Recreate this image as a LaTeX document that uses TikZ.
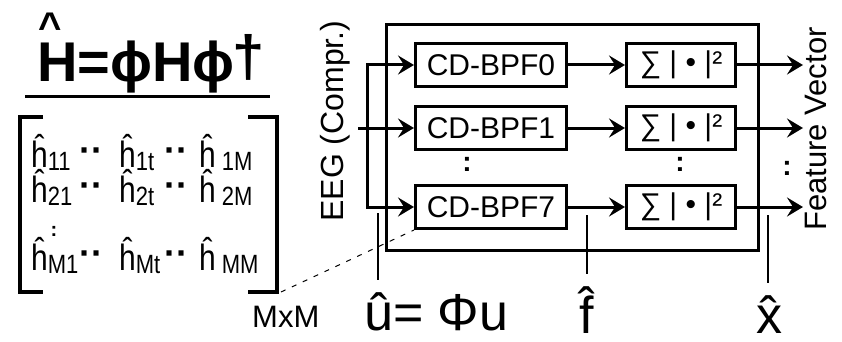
\documentclass[tikz,border=0pt]{standalone}
\usepackage{fontspec}
\usepackage{graphicx}
\setmainfont{Liberation Sans}
\usetikzlibrary{arrows.meta,positioning}
\newcommand{\fs}[1]{\fontsize{#1}{#1}\selectfont}
\newcommand{\hsub}[1]{\raisebox{-3pt}{\scalebox{1}[1.2]{\fs{22}#1}}}
\newcommand{\hent}{\scalebox{1}[1.22]{ĥ}}
\begin{document}
\begin{tikzpicture}[x=1pt,y=-1pt,>={Stealth[length=16pt,width=19pt,inset=6pt]},
  blk/.style={draw,line width=3pt,minimum height=43pt,inner sep=0pt,font=\fs{30}},
  bpf/.style={blk,minimum width=151pt},
  pow/.style={blk,minimum width=109pt},
  wire/.style={line width=3pt},
  tick/.style={line width=1.5pt,shorten >=12pt},
  vd/.style={font=\fs{28}\bfseries,inner sep=0pt},
  ent/.style={font=\fs{30},anchor=base west,inner sep=0pt},
  lab/.style={font=\fs{52},anchor=base,inner sep=0pt}]
  \useasboundingbox (0,0) rectangle (842,342);
  \node[anchor=base west,inner sep=0pt,font=\fs{56}\bfseries] (Hf) at (37,82) {H=ϕHϕ};
  \node[anchor=base west,inner sep=0pt,font=\fs{58}\bfseries] (dag) at ([xshift=-3pt,yshift=5pt]Hf.base east) {†};
  \node[anchor=base,inner sep=0pt,font=\fs{40}\bfseries] (Hhat) at (50,41) {\textasciicircum};
  \draw[line width=3pt] (25,97) -- (270,97);
  \foreach \r/\y in {1/167,2/202,M/270}{
    \node[ent] (h\r a) at (31,\y) {\hent\hsub{\r1}};
    \node[ent] (h\r b) at (119,\y) {\hent\hsub{\r t}};
    \node[ent] (h\r c) at (199,\y) {\hent\hspace{6pt}\hsub{\r M}};
    \node[vd,font=\fs{36}\bfseries] (da\r) at (91,\y-12) {··};
    \node[vd,font=\fs{36}\bfseries] (db\r) at (176,\y-12) {··};
  }
  \node[vd,font=\fs{20}\bfseries] (dm) at (54,231) {:};
  \draw[line width=4pt] (43,117) -- (20,117) -- (20,292) -- (43,292);
  \draw[line width=4pt] (248,117) -- (277,117) -- (277,292) -- (248,292);
  \coordinate (mse) at (281,292);
  \node[anchor=base west,inner sep=0pt,font=\fs{31}] (dim) at (252,327) {MxM};
  \node[draw,line width=3pt,minimum width=372pt,minimum height=226pt] (sys) at (572.5,137.5) {};
  \node[bpf] (bpf0) at (491,65) {CD-BPF0};
  \node[bpf,below=17pt of bpf0] (bpf1) {CD-BPF1};
  \node[bpf,below=33pt of bpf1] (bpf7) {CD-BPF7};
  \node[pow,right=57pt of bpf0] (pow0) {∑ | • |²};
  \node[pow,right=57pt of bpf1] (pow1) {∑ | • |²};
  \node[pow,right=57pt of bpf7] (pow7) {∑ | • |²};
  \node[vd] (d1) at (467,164) {:};
  \node[vd] (d2) at (680,164) {:};
  \node[vd] (d3) at (787,168) {:};
  \coordinate (eeg) at (358,128);
  \coordinate (jx) at (367,0);
  \coordinate (out) at (803,0);
  \draw[wire,->] (eeg) -- (bpf1);
  \draw[wire,<->] (bpf0) -- (bpf0 -| jx) -- (bpf7 -| jx) -- (bpf7);
  \foreach \i in {0,1,7}{
    \draw[wire,->] (bpf\i) -- (pow\i);
    \draw[wire,->] (pow\i) -- (pow\i -| out);
  }
  \draw[line width=1pt,dash pattern=on 5pt off 7pt] (mse) -- (bpf7.south west);
  \node[rotate=90,inner sep=0pt,font=\fs{32}] (eegl) at (335,121) {EEG (Compr.)};
  \node[rotate=90,inner sep=0pt,font=\fs{31}] (fvl) at (815.5,129) {Feature Vector};
  \node[lab,anchor=base west] (ulab) at (364,330) {û= Φu};
  \node[lab] (flab) at (587,333) {\^{f}};
  \node[lab] (xlab) at (769,333) {\^{x}};
  \coordinate (ut) at (378,213);
  \coordinate (ft) at (587,215);
  \coordinate (xt) at (768,215);
  \draw[tick] (ut) -- (ut |- ulab.north);
  \draw[tick] (ft) -- (ft |- flab.north);
  \draw[tick] (xt) -- (xt |- xlab.north);
\end{tikzpicture}
\end{document}
